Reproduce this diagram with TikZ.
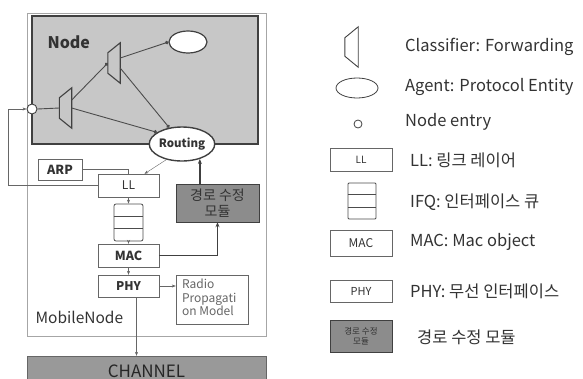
\documentclass[tikz,border=0pt]{standalone}
\usepackage{fontspec}
\setmainfont{Noto Sans CJK KR}
\usetikzlibrary{arrows.meta,shapes.geometric,calc}
\tikzset{
    box/.style={draw=black!60, fill=white, inner sep=0pt, align=center}, % layer boxes
    clsf/.style={minimum width=12pt, minimum height=40pt, inner sep=0pt}, % classifier frame
    agent/.style={ellipse, draw=black!75, fill=white, inner sep=0pt}, % agent ellipse
    fixbox/.style={box, draw=black!75, fill=black!45}, % route fix module
    queue/.style={box, draw=black!70, line width=0.8pt}, % interface queue
    link/.style={draw=black!70, line width=0.9pt}, % links inside Node
    dotarr/.style={-{Circle[length=3.5pt]}}, % dot arrow
    arr/.style={-{Stealth[length=4pt,width=3pt]}} % small arrow
}

\begin{document}
\begin{tikzpicture}[x=1pt, y=-1pt, font=\fontsize{11}{13}\selectfont, text=black!80]
    \useasboundingbox (0,0) rectangle (583,378);

    % MobileNode and Node frames
    \draw[black!35] (27,13) rectangle (266,336);
    \draw[line width=1.6pt, draw=black!75, fill=black!22] (32,16) rectangle (258,144);
    \node[anchor=west, font=\bfseries\fontsize{16}{18}\selectfont] (nodetxt) at (44,42) {Node};
    \node[anchor=west, font=\fontsize{15.5}{17}\selectfont] (mobtxt) at (32,317) {MobileNode};

    % inside Node
    \node[clsf] (cl1) at (65.5,108) {};
    \node[clsf] (cl2) at (114,63) {};
    \node[agent, line width=1.2pt, minimum width=38pt, minimum height=22pt] (agent) at (188,42) {};
    \node[circle, draw=black!75, fill=white, line width=0.9pt, minimum size=10pt, inner sep=0pt] (entry) at (32,109) {};
    \node[agent, line width=1.4pt, minimum width=57pt, minimum height=34pt, font=\bfseries\fontsize{11.5}{13}\selectfont] (routing) at (182,144) {Routing};

    % layers
    \node[box, minimum width=44pt, minimum height=21pt, font=\bfseries\fontsize{12.5}{14}\selectfont] (arp) at (60,169.5) {ARP};
    \node[box, minimum width=61pt, minimum height=23pt, font=\fontsize{12}{14}\selectfont] (ll) at (128.5,185.5) {LL};
    \node[queue, rounded corners=2pt, minimum width=29pt, minimum height=37pt] (ifq) at (128.5,222.5) {};
    \node[box, minimum width=61pt, minimum height=23pt, font=\bfseries\fontsize{12.5}{14}\selectfont] (mac) at (128.5,255.5) {MAC};
    \node[box, minimum width=61pt, minimum height=22pt, font=\bfseries\fontsize{12}{14}\selectfont] (phy) at (128.5,286) {PHY};
    \node[box, minimum width=72pt, minimum height=49pt] (radio) at (212,299.5) {};
    \node[anchor=north west, align=left, inner sep=0pt, text=black!60, font=\fontsize{12}{13.5}\selectfont] (radiotxt) at (radio.north west) [xshift=6pt, yshift=-4pt] {Radio\\Propagati\\on Model};
    \node[fixbox, minimum width=83pt, minimum height=38pt, font=\fontsize{14}{16}\selectfont] (fix) at (217.5,203) {경로 수정\\모듈};
    \node[box, fill=black!40, draw=black!60, minimum width=239pt, minimum height=34pt] (channel) at (146.5,373) {};
    \node[font=\fontsize{17}{19}\selectfont, text=black!85] (chtxt) at (146.5,371) {CHANNEL};

    % legend
    \node[clsf, minimum width=13pt] (lcl) at (351.5,47) {};
    \node[agent, line width=0.8pt, minimum width=42pt, minimum height=20pt] (lagent) at (357,88) {};
    \node[circle, draw=black!75, line width=0.8pt, minimum size=8pt, inner sep=0pt] (lentry) at (358,124) {};
    \node[box, minimum width=62pt, minimum height=23pt, font=\fontsize{10}{12}\selectfont] (lll) at (361,159.5) {LL};
    \node[queue, rounded corners=1pt, minimum width=28pt, minimum height=36pt] (lifq) at (362,201) {};
    \node[box, minimum width=62pt, minimum height=26pt, font=\fontsize{12}{14}\selectfont] (lmac) at (361,243) {MAC};
    \node[box, minimum width=62pt, minimum height=22pt, font=\fontsize{11}{13}\selectfont] (lphy) at (361,291) {PHY};
    \node[fixbox, minimum width=62pt, minimum height=32pt, font=\fontsize{8.5}{10}\selectfont] (lfix) at (361,336) {경로 수정\\모듈};
    \foreach \n/\x/\y/\t in {t1/405/47/{Classifier: Forwarding}, t2/405/87/{Agent: Protocol Entity}, t3/405/122/{Node entry},
        t4/410/160/{LL: 링크 레이어}, t5/410/202/{IFQ: 인터페이스 큐}, t6/410/242/{MAC: Mac object},
        t7/410/291/{PHY: 무선 인터페이스}, t8/417/337/{경로 수정 모듈}}
        \node[anchor=west, inner sep=0pt, font=\fontsize{16.5}{18}\selectfont] (\n) at (\x,\y) {\t};

    % classifier shapes and queue slots
    \foreach \c in {cl1,cl2}
        \draw[black!75, line width=1.1pt, fill=black!22] (\c.north east) -- (\c.south east) -- ([yshift=10pt]\c.south west) -- ([yshift=-10pt]\c.north west) -- cycle;
    \draw[black!75, line width=0.9pt] (lcl.north east) -- (lcl.south east) -- ([yshift=11pt]lcl.south west) -- ([yshift=-11pt]lcl.north west) -- cycle;
    \foreach \q in {ifq,lifq}
        \draw[black!70, line width=0.8pt] ($(\q.north west)!1/3!(\q.south west)$) -- ($(\q.north east)!1/3!(\q.south east)$)
                        ($(\q.north west)!2/3!(\q.south west)$) -- ($(\q.north east)!2/3!(\q.south east)$);

    % links inside Node
    \draw[link] (entry.east) -- (cl1.west);
    \draw[link, dotarr] ([yshift=8pt]cl1.east) -- (cl2.west);
    \draw[link, dotarr] ([yshift=5pt]cl2.east) -- (agent.west);
    \draw[link, dotarr] ([yshift=-5pt]cl2.east) -- (routing.128);
    \draw[link, dotarr] (cl1.east) -- (routing.155);

    % links between layers
    \coordinate (back) at (8,109);
    \draw[black!60, arr] (routing.225) -- ([xshift=16pt]ll.north);
    \draw[black!60] (arp.east) -| (ll.north);
    \draw[black!60, arr] (ll.west) -| (back) -- (entry.west);
    \draw[black!60, arr] (ll.south) -- (ifq.north);
    \draw[black!60, arr] (ifq.south) -- (mac.north);
    \draw[black!60, arr] (mac.south) -- (phy.north);
    \draw[black!75, line width=1.4pt, -{Stealth[length=5pt,width=4pt]}] (mac.east) -| (fix.south);
    \draw[black!75, line width=1.4pt, -{Stealth[length=5pt,width=4pt]}] (fix.north -| routing.320) -- (routing.320);
    \draw[black!60, arr] (phy.east) -- (phy.east -| radio.west);
    \draw[black!60, arr] ([xshift=8pt]phy.south) -- ([xshift=8pt]phy.south |- channel.north);
\end{tikzpicture}
\end{document}
